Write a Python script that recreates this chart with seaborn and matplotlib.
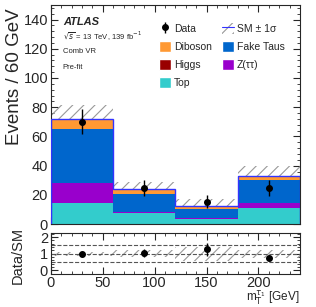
import numpy as np
import pandas as pd
import matplotlib
matplotlib.use("Agg")
import matplotlib.pyplot as plt
import seaborn as sns
from matplotlib.ticker import MultipleLocator, AutoMinorLocator
from matplotlib.patches import Patch
from matplotlib.lines import Line2D

edges = [0, 60, 120, 180, 240]
centers = [30, 90, 150, 210]

processes = ["Top", "Z(ττ)", "Fake Taus", "Higgs", "Diboson"]
top = [14.3, 7.5, 3.5, 10.8]
ztautau = [13.7, 1.0, 0.9, 3.9]
fake = [37.0, 12.0, 5.8, 15.6]
higgs = [0.3, 0.2, 0.1, 0.2]
diboson = [6.4, 3.3, 1.9, 2.1]

data = [70, 25, 15.4, 24.4]
data_err = [8.5, 5.5, 4.5, 5.5]
sm_err = [9.5, 5.0, 5.0, 7.5]

colors = {"Top": "#33cccc", "Z(ττ)": "#9900cc", "Fake Taus": "#0066cc",
          "Higgs": "#990000", "Diboson": "#ff9933"}

sns.set_style("ticks")
plt.rcParams['font.family'] = ['Liberation Sans', 'DejaVu Sans']
plt.rcParams['hatch.linewidth'] = 0.8
plt.rcParams['hatch.color'] = "#999999"

rows = []
for name, vals in zip(processes, [top, ztautau, fake, higgs, diboson]):
    for c, v in zip(centers, vals):
        rows.append({"mt": c, "w": v, "process": name})
df = pd.DataFrame(rows)

total = np.array(top) + np.array(ztautau) + np.array(fake) + np.array(higgs) + np.array(diboson)

fig = plt.figure(figsize=(3.16, 3.07), dpi=100)
ax = fig.add_axes([0.161, 0.270, 0.788, 0.714])
rax = fig.add_axes([0.161, 0.106, 0.788, 0.135])

# uncertainty band behind the stack
ax.bar(centers, 2 * np.array(sm_err), bottom=total - np.array(sm_err), width=60,
       fill=False, hatch="///", edgecolor="#999999", linewidth=0, zorder=1)

sns.histplot(data=df, x="mt", weights="w", hue="process", hue_order=processes[::-1],
             multiple="stack", bins=edges, palette=colors, element="bars",
             linewidth=0, alpha=1, legend=False, ax=ax, zorder=2)
ax.stairs(total, edges, color="#3333ff", linewidth=1.0, zorder=3)

data_h = ax.errorbar(centers, data, yerr=data_err, fmt="o", color="black", ms=4,
                     elinewidth=1, capsize=0, zorder=5)

ax.set_xlim(0, 240)
ax.set_ylim(0, 150)
ax.set_xticklabels([])
ax.set_xlabel("")
ax.set_ylabel("Events / 60 GeV", fontsize=13.5, loc="top")
ax.yaxis.set_label_coords(-0.11, 0.985)
ax.yaxis.set_major_locator(MultipleLocator(20))
ax.yaxis.set_minor_locator(AutoMinorLocator(5))
ax.xaxis.set_major_locator(MultipleLocator(50))
ax.xaxis.set_minor_locator(AutoMinorLocator(5))
ax.tick_params(which="both", direction="in", top=True, right=True, labelsize=10.5, pad=2)
ax.tick_params(which="major", length=5)
ax.tick_params(which="minor", length=2.5)

ax.text(0.048, 0.922, "ATLAS", transform=ax.transAxes, fontsize=8,
        fontweight="bold", style="italic", va="center")
ax.text(0.048, 0.858, r"$\sqrt{s}$ = 13 TeV, 139 fb$^{-1}$", transform=ax.transAxes,
        fontsize=5.5, va="center")
ax.text(0.048, 0.789, "Comb VR", transform=ax.transAxes, fontsize=5.5, va="center")
ax.text(0.048, 0.716, "Pre-fit", transform=ax.transAxes, fontsize=5.5, va="center")

sm_h = (Patch(facecolor="white", hatch="///", edgecolor="#999999", linewidth=0),
        Line2D([0], [0], color="#3333ff", linewidth=0.8))
handles = [
    data_h,
    Patch(facecolor=colors["Diboson"]),
    Patch(facecolor=colors["Higgs"]),
    Patch(facecolor=colors["Top"]),
    sm_h,
    Patch(facecolor=colors["Fake Taus"]),
    Patch(facecolor=colors["Z(ττ)"]),
]
labels = ["Data", "Diboson", "Higgs", "Top", "SM ± 1σ", "Fake Taus", "Z(ττ)"]
ax.legend(handles, labels, ncol=2, loc="upper left", bbox_to_anchor=(0.435, 0.918),
          frameon=False, fontsize=7.5, handlelength=1.15, handleheight=1.25,
          handletextpad=0.3, columnspacing=0.9, labelspacing=0.68,
          borderaxespad=0, borderpad=0)

# ratio panel
ratio = np.array(data) / total
ratio_err = np.array(data_err) / total
rel_sm = np.array(sm_err) / total
rax.bar(centers, 2 * rel_sm, bottom=1 - rel_sm, width=60, fill=False,
        hatch="///", edgecolor="#999999", linewidth=0, zorder=1)
for yv in [0.5, 1.0, 1.5]:
    rax.axhline(yv, color="#555555", linestyle="--", linewidth=0.8, zorder=2)
rax.errorbar(centers, ratio, yerr=ratio_err, fmt="o", color="black", ms=4,
             elinewidth=1, capsize=0, zorder=5)
rax.set_xlim(0, 240)
rax.set_ylim(-0.25, 2.25)
rax.yaxis.set_major_locator(MultipleLocator(1))
rax.yaxis.set_minor_locator(AutoMinorLocator(5))
rax.xaxis.set_major_locator(MultipleLocator(50))
rax.xaxis.set_minor_locator(AutoMinorLocator(5))
rax.tick_params(which="both", direction="in", top=True, right=True, labelsize=10.5, pad=1)
rax.tick_params(axis="y", which="both", pad=2)
rax.tick_params(which="major", length=5)
rax.tick_params(which="minor", length=2.5)
rax.set_ylabel("Data/SM", fontsize=10.5)
rax.yaxis.set_label_coords(-0.105, 0.45)
rax.set_xlabel("")
fig.text(0.949, 0.018, r"m$_{\mathrm{T}}^{\tau_1}$ [GeV]", fontsize=8.5,
         ha="right", va="baseline")

fig.savefig("out.png", dpi=100)
